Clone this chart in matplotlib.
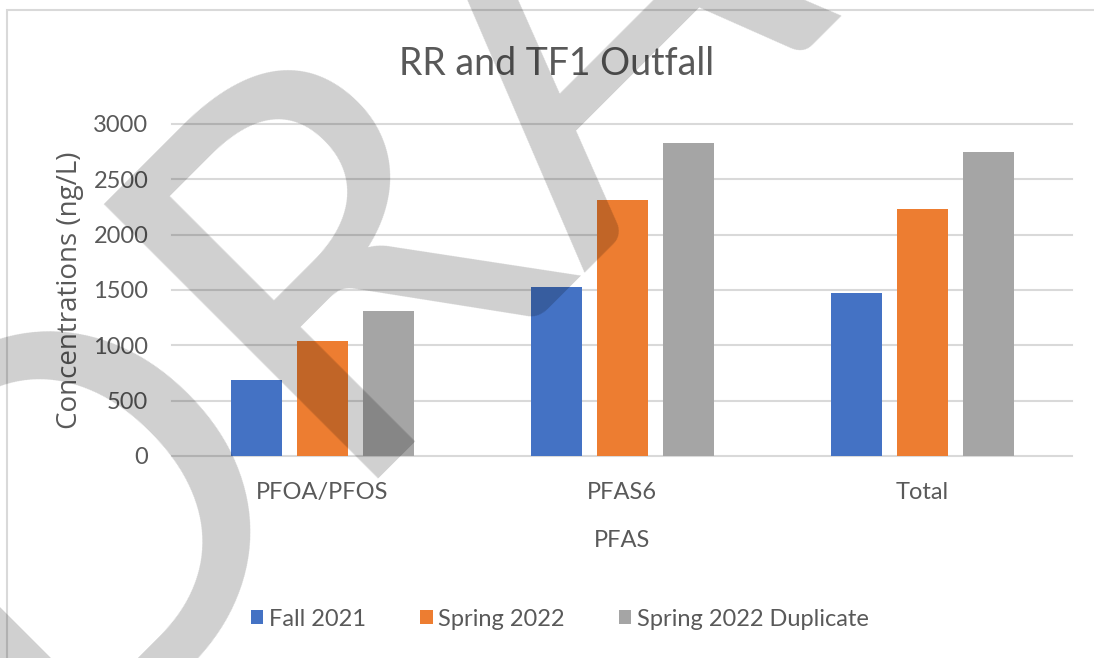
import numpy as np
import matplotlib
matplotlib.use("Agg")
import matplotlib.pyplot as plt
from matplotlib.patches import Rectangle

categories = ["PFOA/PFOS", "PFAS6", "Total"]
series_names = ["Fall 2021", "Spring 2022", "Spring 2022 Duplicate"]
fall_2021 = [690, 1525, 1470]
spring_2022 = [1035, 2310, 2230]
spring_2022_dup = [1310, 2825, 2745]
y_ticks = [0, 500, 1000, 1500, 2000, 2500, 3000]

colors = ["#4472C4", "#ED7D31", "#A5A5A5"]
text_color = "#595959"
grid_color = "#D9D9D9"

plt.rcParams["font.family"] = "Lato"

W, H = 1094, 658
fig = plt.figure(figsize=(W / 100, H / 100), dpi=100)
ax = fig.add_axes([172 / W, 1 - 456 / H, 900 / W, 332 / H])

x = np.arange(len(categories))
width = 0.17
step = 0.22
series = [fall_2021, spring_2022, spring_2022_dup]
for i, (vals, name, c) in enumerate(zip(series, series_names, colors)):
    ax.bar(x + (i - 1) * step, vals, width, color=c, label=name, zorder=3)

ax.set_xlim(-0.5, 2.5)
ax.set_ylim(0, 3000)
ax.set_yticks(y_ticks)
ax.set_xticks(x, categories)
ax.tick_params(length=0, labelsize=17, colors=text_color)
ax.tick_params(axis="y", pad=17)
ax.tick_params(axis="x", pad=19)
ax.grid(axis="y", color=grid_color, lw=1.5, zorder=0)
for gl in ax.get_ygridlines():
    gl.set_clip_on(False)
for s in ax.spines.values():
    s.set_visible(False)
ax.set_axisbelow(True)

ax.set_ylabel("Concentrations (ng/L)", fontsize=20, family="Open Sans",
              color=text_color, labelpad=7)
ax.set_xlabel("PFAS", fontsize=17, color=text_color, labelpad=19)

fig.text(557 / W, 1 - 75 / H, "RR and TF1 Outfall", fontsize=27,
         color=text_color, ha="center", va="baseline")

fig.legend(loc="center", bbox_to_anchor=(560 / W, 1 - 619 / H), ncol=3,
           frameon=False, fontsize=17, handlelength=0.52, handleheight=0.52,
           handletextpad=0.25, columnspacing=2.3, labelcolor=text_color)

# chart border (only top and left edges fall inside the image)
fig.add_artist(Rectangle((7 / W, -0.05), 1.1, 1 - 10 / H + 0.05,
                         transform=fig.transFigure, fill=False,
                         ec=grid_color, lw=1.5))

# DRAFT watermark
fig.text(38 / W, 1 - 769 / H, "DRAFT", fontsize=390, rotation=45,
         rotation_mode="anchor", ha="left", va="baseline",
         color="black", alpha=0.19, zorder=10)

fig.savefig("out.png", dpi=100)
